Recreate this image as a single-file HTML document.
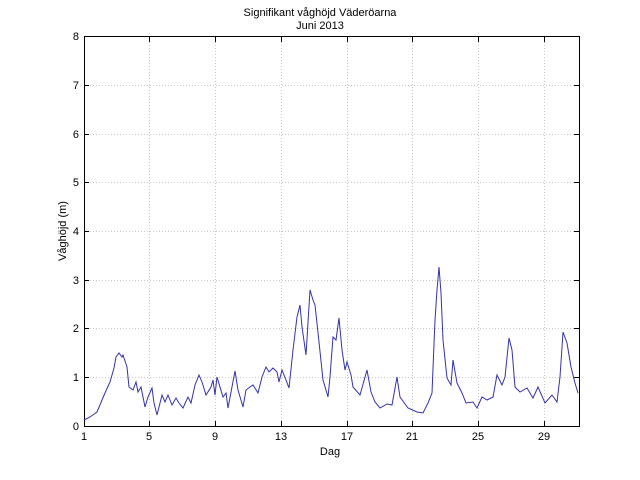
<!DOCTYPE html>
<html><head><meta charset="utf-8"><style>body{margin:0;background:#fff}svg{display:block}</style></head><body>
<svg width="640" height="480" xmlns="http://www.w3.org/2000/svg" font-family="Liberation Sans, sans-serif" font-size="11">
<rect width="640" height="480" fill="#fff"/>
<g stroke="#c8c8c8" stroke-width="1" stroke-dasharray="1,2">
<line x1="149.5" y1="36" x2="149.5" y2="426"/><line x1="215.5" y1="36" x2="215.5" y2="426"/><line x1="281.5" y1="36" x2="281.5" y2="426"/><line x1="347.5" y1="36" x2="347.5" y2="426"/><line x1="412.5" y1="36" x2="412.5" y2="426"/><line x1="478.5" y1="36" x2="478.5" y2="426"/><line x1="544.5" y1="36" x2="544.5" y2="426"/>
<line x1="84" y1="377.5" x2="579" y2="377.5"/><line x1="84" y1="328.5" x2="579" y2="328.5"/><line x1="84" y1="280.5" x2="579" y2="280.5"/><line x1="84" y1="231.5" x2="579" y2="231.5"/><line x1="84" y1="182.5" x2="579" y2="182.5"/><line x1="84" y1="134.5" x2="579" y2="134.5"/><line x1="84" y1="85.5" x2="579" y2="85.5"/>
</g>
<rect x="84.5" y="36.5" width="495" height="390" fill="none" stroke="#000"/>
<g stroke="#000">
<line x1="149.5" y1="426" x2="149.5" y2="421"/><line x1="215.5" y1="426" x2="215.5" y2="421"/><line x1="281.5" y1="426" x2="281.5" y2="421"/><line x1="347.5" y1="426" x2="347.5" y2="421"/><line x1="412.5" y1="426" x2="412.5" y2="421"/><line x1="478.5" y1="426" x2="478.5" y2="421"/><line x1="544.5" y1="426" x2="544.5" y2="421"/>
<line x1="149.5" y1="37" x2="149.5" y2="42"/><line x1="215.5" y1="37" x2="215.5" y2="42"/><line x1="281.5" y1="37" x2="281.5" y2="42"/><line x1="347.5" y1="37" x2="347.5" y2="42"/><line x1="412.5" y1="37" x2="412.5" y2="42"/><line x1="478.5" y1="37" x2="478.5" y2="42"/><line x1="544.5" y1="37" x2="544.5" y2="42"/>
<line x1="84" y1="377.5" x2="89" y2="377.5"/><line x1="84" y1="328.5" x2="89" y2="328.5"/><line x1="84" y1="280.5" x2="89" y2="280.5"/><line x1="84" y1="231.5" x2="89" y2="231.5"/><line x1="84" y1="182.5" x2="89" y2="182.5"/><line x1="84" y1="134.5" x2="89" y2="134.5"/><line x1="84" y1="85.5" x2="89" y2="85.5"/>
<line x1="579" y1="377.5" x2="574" y2="377.5"/><line x1="579" y1="328.5" x2="574" y2="328.5"/><line x1="579" y1="280.5" x2="574" y2="280.5"/><line x1="579" y1="231.5" x2="574" y2="231.5"/><line x1="579" y1="182.5" x2="574" y2="182.5"/><line x1="579" y1="134.5" x2="574" y2="134.5"/><line x1="579" y1="85.5" x2="574" y2="85.5"/>
</g>
<polyline fill="none" stroke="#3333aa" stroke-width="1" points="84,420 90,417 97,412 102,400 105,393 110,382 114,368 116,357 119,353 122,357 123,355 127,367 129,387 133,390 136,382 138,392 141,387 145,407 148,397 152,388 154,403 157,415 162,395 165,402 168,395 172,405 176,398 179,403 183,408 188,397 191,403 195,385 199,375 202,382 206,395 211,387 213,380 215,395 217,377 220,387 223,397 226,393 228,408 235,371 238,390 243,407 246,390 250,387 253,385 258,393 262,377 266,367 269,372 273,368 277,372 279,382 282,370 286,380 289,388 293,350 297,317 300,305 302,327 306,355 310,290 313,300 315,305 319,342 323,380 328,397 330,377 333,337 336,340 339,318 342,350 345,370 347,362 351,375 353,387 360,395 367,370 371,392 375,402 380,408 387,404 392,405 397,377 400,397 408,408 417,412 423,413 428,403 432,393 435,320 437,290 439,267 441,293 443,340 447,378 451,385 453,360 457,383 462,393 466,403 473,402 477,408 482,397 487,400 493,397 497,375 502,385 505,377 509,338 512,350 515,387 520,392 527,388 533,398 538,387 545,403 552,395 557,402 560,377 563,332 567,343 571,367 575,383 578,393"/>
<g text-anchor="middle">
<text x="320" y="16">Signifikant våghöjd Väderöarna</text>
<text x="320" y="29">Juni 2013</text>
<text x="84" y="440">1</text><text x="149" y="440">5</text><text x="215" y="440">9</text><text x="281" y="440">13</text><text x="347" y="440">17</text><text x="412" y="440">21</text><text x="478" y="440">25</text><text x="544" y="440">29</text>
<text x="330" y="455">Dag</text>
<text transform="translate(66,231) rotate(-90)">Våghöjd (m)</text>
</g>
<g text-anchor="end">
<text x="79" y="430">0</text><text x="79" y="381">1</text><text x="79" y="332">2</text><text x="79" y="284">3</text><text x="79" y="235">4</text><text x="79" y="186">5</text><text x="79" y="138">6</text><text x="79" y="89">7</text><text x="79" y="40">8</text>
</g>
</svg>
</body></html>
